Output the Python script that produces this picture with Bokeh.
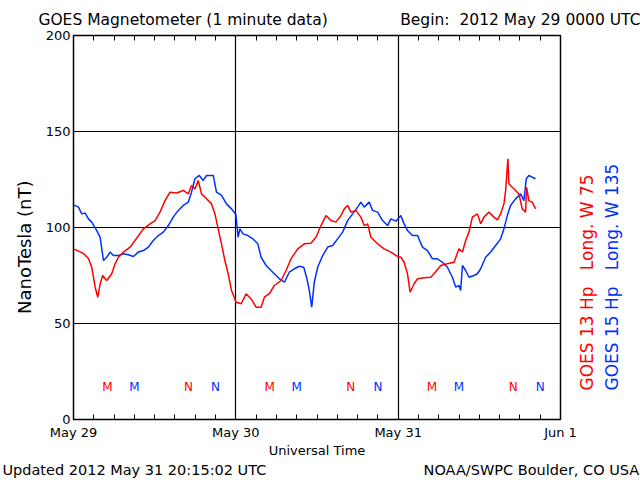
import math
from bokeh.plotting import figure
from bokeh.models import FixedTicker, LinearAxis, Range1d, Grid
from bokeh.core.properties import value
from bokeh.embed import file_html
from bokeh.resources import INLINE

# ---- data (hours since 2012-05-29 00:00 UTC) ----
g13_hours = [0, 1.48, 2.21, 2.70, 3.20, 3.59, 3.94, 4.32, 4.91, 5.65, 6.15, 6.64, 7.38, 8.37,
             9.10, 10.33, 11.32, 12.05, 12.79, 13.53, 14.27, 15.24, 16.23, 16.97, 17.45, 17.96,
             18.44, 18.93, 19.67, 20.40, 20.91, 21.39, 21.88, 22.38, 22.87, 23.36, 24.05, 24.79,
             25.52, 26.26, 27.0, 27.74, 28.22, 28.96, 29.70, 30.69, 31.43, 32.16, 33.15, 34.13,
             35.11, 35.85, 36.59, 37.33, 38.07, 38.80, 39.54, 40.03, 40.53, 41.02, 41.75, 42.49,
             42.98, 43.48, 43.97, 44.96, 45.93, 46.92, 47.91, 48.39, 48.88, 49.38, 49.77, 50.36,
             50.86, 51.83, 52.82, 53.31, 54.30, 55.28, 56.26, 56.99, 57.50, 57.98, 58.47, 58.97,
             59.71, 60.20, 60.68, 61.42, 62.16, 62.66, 63.15, 63.64, 63.89, 64.22, 64.37, 64.87,
             65.36, 65.85, 66.35, 66.84, 66.98, 67.32, 67.82, 68.31]
g13_hp = [88.9, 86.5, 83.9, 79.3, 68.9, 63.7, 70.7, 75.0, 72.4, 75.9, 81.1, 84.5, 87.2, 89.8,
          93.2, 99.3, 101.9, 103.6, 108.0, 114.0, 118.4, 118.0, 119.3, 117.5, 121.9, 120.1,
          124.5, 117.5, 115.0, 112.3, 107.1, 99.3, 91.5, 82.8, 75.9, 67.2, 61.1, 60.3,
          65.5, 62.8, 58.5, 58.5, 63.7, 65.5, 69.8, 72.4, 77.6, 83.7, 88.9, 91.5,
          91.8, 94.9, 101.0, 106.2, 103.6, 102.8, 106.2, 109.7, 111.5, 108.0, 108.9, 105.4,
          101.0, 101.9, 94.9, 91.5, 88.9, 87.2, 84.9, 84.5, 81.9, 75.9, 66.3, 70.7,
          73.3, 73.8, 74.1, 75.9, 80.2, 81.1, 81.9, 88.9, 87.2, 93.2, 97.6, 105.4,
          107.1, 101.9, 105.4, 108.0, 105.4, 104.0, 107.1, 112.3, 119.3, 135.8, 122.8, 121.0,
          119.3, 117.5, 109.7, 108.0, 121.0, 114.0, 113.2, 109.7]

g15_hours = [0, 0.74, 1.22, 1.73, 2.21, 2.70, 3.44, 3.94, 4.43, 4.91, 5.41, 5.90, 6.64, 7.38,
             8.11, 8.85, 9.59, 10.33, 11.07, 11.80, 12.54, 13.28, 14.02, 14.75, 15.49, 16.23,
             16.97, 17.45, 17.96, 18.59, 19.18, 19.67, 20.66, 21.14, 21.88, 22.62, 23.36, 24.00,
             24.34, 24.59, 25.08, 25.78, 26.51, 27.25, 27.74, 28.48, 29.21, 29.95, 30.44, 31.18,
             31.91, 32.65, 33.39, 34.04, 34.52, 34.86, 35.22, 35.60, 36.10, 36.84, 37.58, 38.32,
             39.05, 39.79, 40.53, 41.27, 42.00, 42.49, 42.98, 43.72, 44.22, 44.96, 45.69, 46.43,
             46.92, 47.66, 48.39, 48.88, 49.38, 50.12, 50.86, 51.59, 52.33, 53.07, 53.80, 54.54,
             55.28, 56.02, 56.51, 56.99, 57.24, 57.50, 57.98, 58.47, 59.21, 59.71, 60.20, 60.93,
             61.67, 62.41, 63.15, 63.64, 64.14, 64.62, 65.36, 66.10, 66.59, 66.94, 67.32, 67.82,
             68.31]
g15_hp = [111.8, 110.6, 107.1, 107.5, 104.5, 102.8, 98.4, 94.9, 82.8, 84.5, 87.2, 85.4, 85.4, 86.3,
          85.8, 84.9, 87.2, 88.0, 89.8, 93.2, 95.8, 97.6, 101.0, 105.4, 108.9, 111.5,
          113.2, 118.4, 125.4, 127.1, 124.5, 127.1, 127.1, 118.4, 116.7, 112.3, 109.7, 106.8,
          94.9, 99.3, 96.7, 95.8, 94.1, 91.5, 84.5, 80.2, 77.6, 75.0, 73.3, 71.5,
          76.7, 78.5, 79.8, 79.3, 73.3, 67.2, 58.5, 71.5, 79.3, 85.4, 89.8, 90.6,
          94.1, 97.6, 103.6, 107.1, 110.6, 113.2, 110.6, 113.2, 108.9, 108.0, 103.6, 101.0,
          104.5, 103.3, 106.2, 101.9, 98.4, 95.8, 95.8, 89.8, 88.0, 83.7, 83.7, 81.9,
          79.3, 74.1, 68.9, 69.8, 67.2, 80.2, 77.6, 74.1, 75.0, 75.9, 78.5, 84.5,
          87.2, 90.6, 94.1, 99.3, 106.2, 111.5, 114.9, 117.5, 114.0, 125.4, 127.1, 126.2,
          125.4]

# local midnight (M) / noon (N) markers
g13_marker_hours = [5, 17, 29, 41, 53, 65]
g13_marker_text = ["M", "N", "M", "N", "M", "N"]
g15_marker_hours = [9, 21, 33, 45, 57, 69]
g15_marker_text = ["M", "N", "M", "N", "M", "N"]
marker_level = 17

day_ticks = [0, 24, 48, 72]
day_labels = ["May 29", "May 30", "May 31", "Jun 1"]
hour_ticks = [h for h in range(3, 72, 3)]
all_3h = [h for h in range(0, 73, 3)]
y_ticks = [0, 50, 100, 150, 200]

NB = "\u00a0"
title_text = "GOES Magnetometer (1 minute data)"
begin_text = "Begin:" + NB + NB + "2012 May 29 0000 UTC"
updated_text = "Updated 2012 May 31 20:15:02 UTC"
credit_text = "NOAA/SWPC Boulder, CO USA"
ylabel_text = "NanoTesla (nT)"
xlabel_text = "Universal Time"
g13_text = "GOES 13 Hp" + NB * 3 + "Long. W 75"
g15_text = "GOES 15 Hp" + NB * 3 + "Long. W 135"

RED = "#ff0000"
BLUE = "#0030ff"
FONT = "DejaVu Sans"

W, H = 640, 480
p = figure(width=W, height=H, output_backend="svg", toolbar_location=None, title=None,
           x_range=Range1d(0, 72), y_range=Range1d(0, 200),
           min_border_left=72, min_border_right=80, min_border_top=35, min_border_bottom=61,
           x_axis_location=None, y_axis_location=None)
p.xgrid.visible = False
p.ygrid.visible = False
p.outline_line_color = "black"
p.outline_line_width = 1.5
p.background_fill_color = "white"
p.border_fill_color = "white"


def text_axis(ticks, labels, size, color="black", standoff=0, orient="horizontal",
              minor=None, minor_len=0):
    ax = LinearAxis(ticker=FixedTicker(ticks=ticks, minor_ticks=minor or []))
    ax.major_label_overrides = {t: l for t, l in zip(ticks, labels)}
    ax.major_tick_in = 0
    ax.major_tick_out = 0
    ax.minor_tick_in = minor_len
    ax.minor_tick_out = 0
    ax.axis_line_color = None
    ax.major_label_standoff = standoff
    ax.major_label_text_font = FONT
    ax.major_label_text_font_size = size
    ax.major_label_text_color = color
    ax.major_label_orientation = orient
    return ax


# ---- bottom: day labels with inward 3-hour ticks ----
xb = LinearAxis(ticker=FixedTicker(ticks=day_ticks, minor_ticks=hour_ticks))
xb.major_label_overrides = {t: l for t, l in zip(day_ticks, day_labels)}
xb.major_tick_in = 5
xb.major_tick_out = 0
xb.minor_tick_in = 5
xb.minor_tick_out = 0
xb.axis_line_color = "black"
xb.major_label_standoff = 5
xb.major_label_text_font = FONT
xb.major_label_text_font_size = "13px"
xb.major_label_text_color = "black"
xb.axis_label = xlabel_text
xb.axis_label_standoff = 0
xb.axis_label_text_font = FONT
xb.axis_label_text_font_size = "13px"
xb.axis_label_text_font_style = "normal"
xb.axis_label_text_color = "black"
p.add_layout(xb, "below")

# bottom footer texts
p.add_layout(text_axis([9.0, 67.7], [updated_text, credit_text], "14.5px", standoff=1), "below")

# ---- top: inward ticks + title texts ----
top_ax = text_axis([16.2, 66.3], [title_text, begin_text], "15.5px", standoff=7,
                   minor=all_3h, minor_len=5)
top_ax.axis_line_color = "black"
p.add_layout(top_ax, "above")

# ---- left: value labels + unit label ----
yl = LinearAxis(ticker=FixedTicker(ticks=y_ticks))
yl.major_tick_in = 0
yl.major_tick_out = 0
yl.minor_tick_line_color = None
yl.major_label_standoff = 3
yl.major_label_text_font = FONT
yl.major_label_text_font_size = "13px"
yl.major_label_text_color = "black"
p.add_layout(yl, "left")
p.add_layout(text_axis([124.5], [ylabel_text], "18px", standoff=18, orient=math.pi / 2), "left")

# ---- right: satellite legends ----
p.add_layout(text_axis([15.1], [g13_text], "17px", color=RED, standoff=27, orient=math.pi / 2), "right")
p.add_layout(text_axis([15.1], [g15_text], "17px", color=BLUE, standoff=2, orient=math.pi / 2), "right")

# grid
p.add_layout(Grid(dimension=0, ticker=FixedTicker(ticks=[24, 48]),
                  grid_line_color="black", grid_line_width=1.2))
p.add_layout(Grid(dimension=1, ticker=FixedTicker(ticks=[50, 100, 150]),
                  grid_line_color="black", grid_line_width=1.2))

# data lines
p.line(g15_hours, g15_hp, line_color=BLUE, line_width=1.5)
p.line(g13_hours, g13_hp, line_color=RED, line_width=1.5)

# M / N markers
p.text(x=g13_marker_hours, y=[marker_level] * len(g13_marker_hours), text=g13_marker_text,
       text_color=RED, text_font=value(FONT), text_font_size="12px",
       text_align="center", text_baseline="middle")
p.text(x=g15_marker_hours, y=[marker_level] * len(g15_marker_hours), text=g15_marker_text,
       text_color=BLUE, text_font=value(FONT), text_font_size="12px",
       text_align="center", text_baseline="middle")

open("out.html", "w").write(file_html(p, INLINE))
